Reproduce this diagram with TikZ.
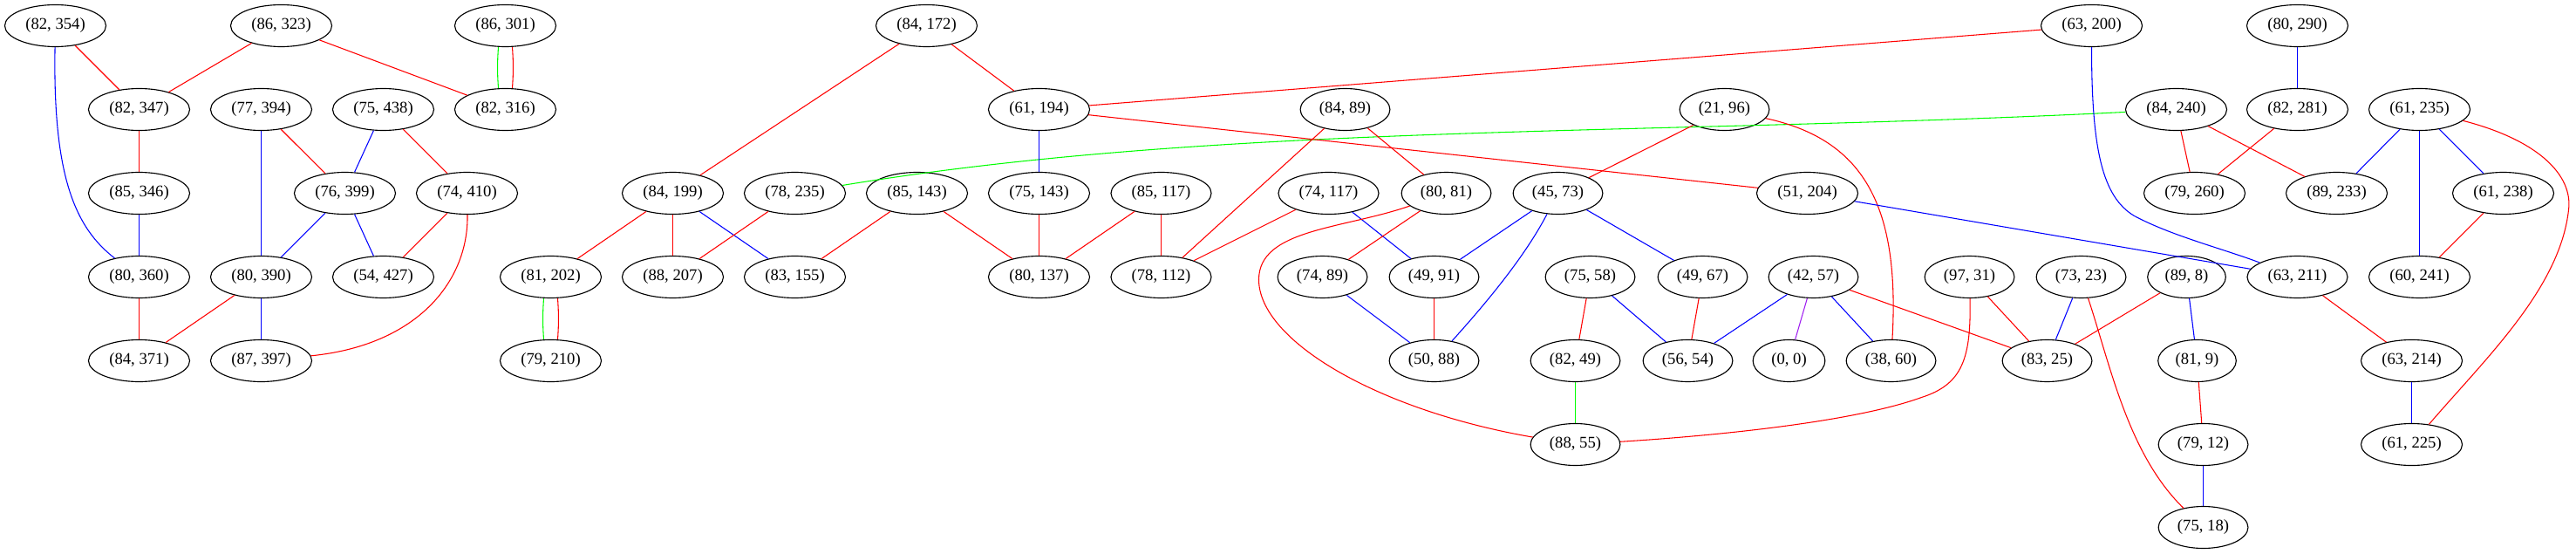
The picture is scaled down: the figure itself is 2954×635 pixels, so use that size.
\documentclass[tikz,border=0pt]{standalone}
\usepackage{fontspec}
\setmainfont{Liberation Serif}
\usetikzlibrary{shapes.geometric,calc}
\definecolor{gvred}{RGB}{255,0,0}
\definecolor{gvgreen}{RGB}{0,255,0}
\definecolor{gvblue}{RGB}{0,0,255}
\definecolor{gvpurple}{RGB}{160,32,240}
\begin{document}
\begin{tikzpicture}[x=0.75pt,y=-0.75pt,
  nd/.style={ellipse,draw=black,line width=0.85pt,minimum width=54pt,minimum height=36pt,
    inner xsep=5.1pt,inner ysep=3pt,font=\fontsize{14}{16}\selectfont},
  er/.style={draw=gvred,line width=0.8pt},
  eb/.style={draw=gvblue,line width=0.8pt},
  eg/.style={draw=gvgreen,line width=0.8pt},
  ep/.style={draw=gvpurple,line width=0.8pt}]
\useasboundingbox (0,0) rectangle (2954,635);
\begin{scope}[shift={(0.5,0.5)}]
% row 1
\node[nd] (n82x354) at (63,29) {(82, 354)};
\node[nd] (n86x323) at (322,29) {(86, 323)};
\node[nd] (n86x301) at (579,29) {(86, 301)};
\node[nd] (n84x172) at (1062,29) {(84, 172)};
\node[nd] (n63x200) at (2398,29) {(63, 200)};
\node[nd] (n80x290) at (2634,29) {(80, 290)};
% row 2
\node[nd] (n82x347) at (159,125) {(82, 347)};
\node[nd] (n77x394) at (299,125) {(77, 394)};
\node[nd] (n75x438) at (439,125) {(75, 438)};
\node[nd] (n82x316) at (579,125) {(82, 316)};
\node[nd] (n61x194) at (1191,125) {(61, 194)};
\node[nd] (n84x89) at (1542,125) {(84, 89)};
\node[nd] (n21x96) at (1977,125) {(21, 96)};
\node[nd] (n84x240) at (2495,125) {(84, 240)};
\node[nd] (n82x281) at (2634,125) {(82, 281)};
\node[nd] (n61x235) at (2774,125) {(61, 235)};
% row 3
\node[nd] (n85x346) at (159,221) {(85, 346)};
\node[nd] (n76x399) at (395,221) {(76, 399)};
\node[nd] (n74x410) at (535,221) {(74, 410)};
\node[nd] (n84x199) at (771,221) {(84, 199)};
\node[nd] (n78x235) at (911,221) {(78, 235)};
\node[nd] (n85x143) at (1051,221) {(85, 143)};
\node[nd] (n75x143) at (1191,221) {(75, 143)};
\node[nd] (n85x117) at (1331,221) {(85, 117)};
\node[nd] (n74x117) at (1523,221) {(74, 117)};
\node[nd] (n80x81) at (1658,221) {(80, 81)};
\node[nd] (n45x73) at (1786,221) {(45, 73)};
\node[nd] (n51x204) at (2072,221) {(51, 204)};
\node[nd] (n79x260) at (2516,221) {(79, 260)};
\node[nd] (n89x233) at (2679,221) {(89, 233)};
\node[nd] (n61x238) at (2870,221) {(61, 238)};
% row 4
\node[nd] (n80x360) at (159,317) {(80, 360)};
\node[nd] (n80x390) at (299,317) {(80, 390)};
\node[nd] (n54x427) at (439,317) {(54, 427)};
\node[nd] (n81x202) at (631,317) {(81, 202)};
\node[nd] (n88x207) at (771,317) {(88, 207)};
\node[nd] (n83x155) at (911,317) {(83, 155)};
\node[nd] (n80x137) at (1191,317) {(80, 137)};
\node[nd] (n78x112) at (1331,317) {(78, 112)};
\node[nd] (n74x89) at (1516,317) {(74, 89)};
\node[nd] (n49x91) at (1644,317) {(49, 91)};
\node[nd] (n75x58) at (1823,317) {(75, 58)};
\node[nd] (n49x67) at (1952,317) {(49, 67)};
\node[nd] (n42x57) at (2079,317) {(42, 57)};
\node[nd] (n97x31) at (2258,317) {(97, 31)};
\node[nd] (n73x23) at (2386,317) {(73, 23)};
\node[nd] (n89x8) at (2507,317) {(89, 8)};
\node[nd] (n63x211) at (2634,317) {(63, 211)};
\node[nd] (n60x241) at (2774,317) {(60, 241)};
% row 5
\node[nd] (n84x371) at (159,413) {(84, 371)};
\node[nd] (n87x397) at (299,413) {(87, 397)};
\node[nd] (n79x210) at (631,413) {(79, 210)};
\node[nd] (n50x88) at (1644,413) {(50, 88)};
\node[nd] (n82x49) at (1806,413) {(82, 49)};
\node[nd] (n56x54) at (1935,413) {(56, 54)};
\node[nd,minimum width=62pt] (n0x0) at (2051,413) {(0, 0)};
\node[nd] (n38x60) at (2168,413) {(38, 60)};
\node[nd] (n83x25) at (2347,413) {(83, 25)};
\node[nd] (n81x9) at (2519,413) {(81, 9)};
\node[nd] (n63x214) at (2765,413) {(63, 214)};
% row 6
\node[nd] (n88x55) at (1806,509) {(88, 55)};
\node[nd] (n79x12) at (2526,509) {(79, 12)};
\node[nd] (n61x225) at (2765,509) {(61, 225)};
% row 7
\node[nd] (n75x18) at (2526,604) {(75, 18)};

% edges
\draw[er] (n82x354) -- (n82x347);
\draw[eb] (n82x354) .. controls (60,200) and (85,260) .. (n80x360);
\draw[er] (n86x323) -- (n82x347);
\draw[er] (n86x323) -- (n82x316);
\draw[eg] ($(n86x301.south)+(-8,0)$) to[bend right=4] ($(n82x316.north)+(-8,0)$);
\draw[er] ($(n86x301.south)+(8,0)$) to[bend left=4] ($(n82x316.north)+(8,0)$);
\draw[er] (n82x347) -- (n85x346);
\draw[eb] (n85x346) -- (n80x360);
\draw[eb] (n77x394) -- (n80x390);
\draw[er] (n77x394) -- (n76x399);
\draw[eb] (n75x438) -- (n76x399);
\draw[er] (n75x438) -- (n74x410);
\draw[eb] (n76x399) -- (n80x390);
\draw[eb] (n76x399) -- (n54x427);
\draw[er] (n74x410) -- (n54x427);
\draw[er] (n74x410) .. controls (537,320) and (480,395) .. (n87x397);
\draw[er] (n80x360) -- (n84x371);
\draw[er] (n80x390) -- (n84x371);
\draw[eb] (n80x390) -- (n87x397);
\draw[er] (n84x172) -- (n84x199);
\draw[er] (n84x172) -- (n61x194);
\draw[er] (n84x199) -- (n81x202);
\draw[er] (n84x199) -- (n88x207);
\draw[eb] (n84x199) -- (n83x155);
\draw[er] (n78x235) -- (n88x207);
\draw[eg] (n84x240) .. controls (1900,155) and (1400,140) .. (n78x235);
\draw[eg] ($(n81x202.south)+(-8,0)$) to[bend right=4] ($(n79x210.north)+(-8,0)$);
\draw[er] ($(n81x202.south)+(8,0)$) to[bend left=4] ($(n79x210.north)+(8,0)$);
\draw[er] (n85x143) -- (n83x155);
\draw[er] (n85x143) -- (n80x137);
\draw[eb] (n61x194) -- (n75x143);
\draw[er] (n61x194) -- (n63x200);
\draw[er] (n61x194) -- (n51x204);
\draw[er] (n75x143) -- (n80x137);
\draw[er] (n85x117) -- (n80x137);
\draw[er] (n85x117) -- (n78x112);
\draw[er] (n84x89) -- (n78x112);
\draw[er] (n84x89) -- (n80x81);
\draw[er] (n74x117) -- (n78x112);
\draw[eb] (n74x117) -- (n49x91);
\draw[er] (n80x81) -- (n74x89);
\draw[er] (n80x81) .. controls (1540,262) and (1443,262) .. (1443,320)
  .. controls (1443,390) and (1580,470) .. (n88x55);
\draw[eb] (n45x73) -- (n49x91);
\draw[eb] (n45x73) .. controls (1750,290) and (1710,340) .. (n50x88);
\draw[eb] (n45x73) -- (n49x67);
\draw[er] (n21x96) -- (n45x73);
\draw[er] (n21x96) .. controls (2140,160) and (2178,240) .. (n38x60);
\draw[eb] (n74x89) -- (n50x88);
\draw[er] (n49x91) -- (n50x88);
\draw[er] (n75x58) -- (n82x49);
\draw[eb] (n75x58) -- (n56x54);
\draw[er] (n49x67) -- (n56x54);
\draw[eg] (n82x49) -- (n88x55);
\draw[eb] (n42x57) -- (n56x54);
\draw[ep] (n42x57) -- (n0x0);
\draw[eb] (n42x57) -- (n38x60);
\draw[er] (n42x57) -- (n83x25);
\draw[er] (n97x31) -- (n83x25);
\draw[er] (n97x31) .. controls (2260,410) and (2250,440) .. (2203,455)
  .. controls (2120,485) and (1950,500) .. (n88x55);
\draw[eb] (n73x23) -- (n83x25);
\draw[er] (n73x23) .. controls (2420,420) and (2440,520) .. (n75x18);
\draw[er] (n89x8) -- (n83x25);
\draw[eb] (n89x8) -- (n81x9);
\draw[er] (n81x9) -- (n79x12);
\draw[eb] (n79x12) -- (n75x18);
\draw[eb] (n63x200) .. controls (2398,170) and (2410,225) .. (2447,247)
  .. controls (2490,270) and (2550,285) .. (n63x211);
\draw[eb] (n51x204) -- (n63x211);
\draw[eb] (n80x290) -- (n82x281);
\draw[er] (n82x281) -- (n79x260);
\draw[er] (n84x240) -- (n79x260);
\draw[er] (n84x240) -- (n89x233);
\draw[eb] (n61x235) -- (n89x233);
\draw[eb] (n61x235) -- (n61x238);
\draw[eb] (n61x235) -- (n60x241);
\draw[er] (n61x235) .. controls (2910,160) and (2950,200) .. (2945,240)
  .. controls (2935,330) and (2850,410) .. (n61x225);
\draw[er] (n61x238) -- (n60x241);
\draw[er] (n63x211) -- (n63x214);
\draw[eb] (n63x214) -- (n61x225);
\end{scope}
\end{tikzpicture}
\end{document}
